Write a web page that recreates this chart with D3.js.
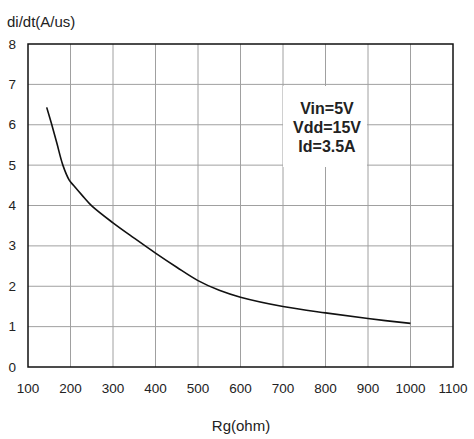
<!DOCTYPE html>
<html>
<head>
<meta charset="utf-8">
<script src="https://cdn.jsdelivr.net/npm/d3@7"></script>
<style>
  body { margin: 0; background: #fff; }
  svg { font-family: "Liberation Sans", Arial, sans-serif; }
</style>
</head>
<body>
<div class="chart"></div>
<script>
// curve
var rg = [144, 156, 168, 182, 197, 207, 230, 250, 300, 350, 400, 450, 500, 550, 600, 700, 800, 900, 1000];
var didt = [6.43, 6.0, 5.54, 5.0, 4.63, 4.5, 4.22, 3.99, 3.57, 3.19, 2.82, 2.47, 2.14, 1.9, 1.73, 1.5, 1.34, 1.2, 1.08];
var xTicks = [100, 200, 300, 400, 500, 600, 700, 800, 900, 1000, 1100];
var yTicks = [0, 1, 2, 3, 4, 5, 6, 7, 8];
var notes = ['Vin=5V', 'Vdd=15V', 'Id=3.5A'];

var width = 474, height = 439;
// plot area edges (note: "top" is taken by window.top)
var plotL = 28, plotR = 453, plotT = 44, plotB = 367;

var svg = d3.select('.chart')
        .append('svg')
        .attr('width', width)
        .attr('height', height);

var x = d3.scaleLinear().domain([100, 1100]).range([plotL, plotR]);
var y = d3.scaleLinear().domain([0, 8]).range([plotB, plotT]);

// grid
svg.append('g')
        .selectAll('line')
        .data(xTicks.slice(1, -1))
        .enter()
        .append('line')
        .attr('x1', function(d) { return x(d); })
        .attr('x2', function(d) { return x(d); })
        .attr('y1', plotT)
        .attr('y2', plotB)
        .attr('stroke', '#a0a0a0')
        .attr('stroke-width', 1);

svg.append('g')
        .selectAll('line')
        .data(yTicks.slice(1, -1))
        .enter()
        .append('line')
        .attr('x1', plotL)
        .attr('x2', plotR)
        .attr('y1', function(d) { return y(d); })
        .attr('y2', function(d) { return y(d); })
        .attr('stroke', '#a0a0a0')
        .attr('stroke-width', 1);

// white box behind the conditions
svg.append('rect')
        .attr('x', 283)
        .attr('y', 86)
        .attr('width', 84)
        .attr('height', 81)
        .attr('fill', '#fff');

svg.append('g')
        .selectAll('text')
        .data(notes)
        .enter()
        .append('text')
        .attr('x', 327)
        .attr('y', function(d, i) { return 114 + i * 19; })
        .attr('text-anchor', 'middle')
        .attr('font-size', 16)
        .attr('font-weight', 'bold')
        .attr('fill', '#222')
        .text(function(d) { return d; });

// frame
svg.append('rect')
        .attr('x', plotL)
        .attr('y', plotT)
        .attr('width', plotR - plotL)
        .attr('height', plotB - plotT)
        .attr('fill', 'none')
        .attr('stroke', '#111')
        .attr('stroke-width', 1.5);

// curve
var line = d3.line()
        .x(function(d, i) { return x(rg[i]); })
        .y(function(d) { return y(d); })
        .curve(d3.curveCatmullRom.alpha(0.5));

svg.append('path')
        .datum(didt)
        .attr('d', line)
        .attr('fill', 'none')
        .attr('stroke', '#111')
        .attr('stroke-width', 1.6);

// tick labels
svg.append('g')
        .selectAll('text')
        .data(xTicks)
        .enter()
        .append('text')
        .attr('x', function(d) { return x(d); })
        .attr('y', 393)
        .attr('text-anchor', 'middle')
        .attr('font-size', 13.5)
        .attr('fill', '#222')
        .text(function(d) { return d; });

svg.append('g')
        .selectAll('text')
        .data(yTicks)
        .enter()
        .append('text')
        .attr('x', 16)
        .attr('y', function(d) { return y(d) + 4.5; })
        .attr('text-anchor', 'end')
        .attr('font-size', 13.5)
        .attr('fill', '#222')
        .text(function(d) { return d; });

// axis titles
svg.append('text')
        .attr('x', 7)
        .attr('y', 27)
        .attr('font-size', 15)
        .attr('fill', '#222')
        .text('di/dt(A/us)');

svg.append('text')
        .attr('x', 241)
        .attr('y', 431)
        .attr('text-anchor', 'middle')
        .attr('font-size', 15)
        .attr('fill', '#222')
        .text('Rg(ohm)');
</script>
</body>
</html>
